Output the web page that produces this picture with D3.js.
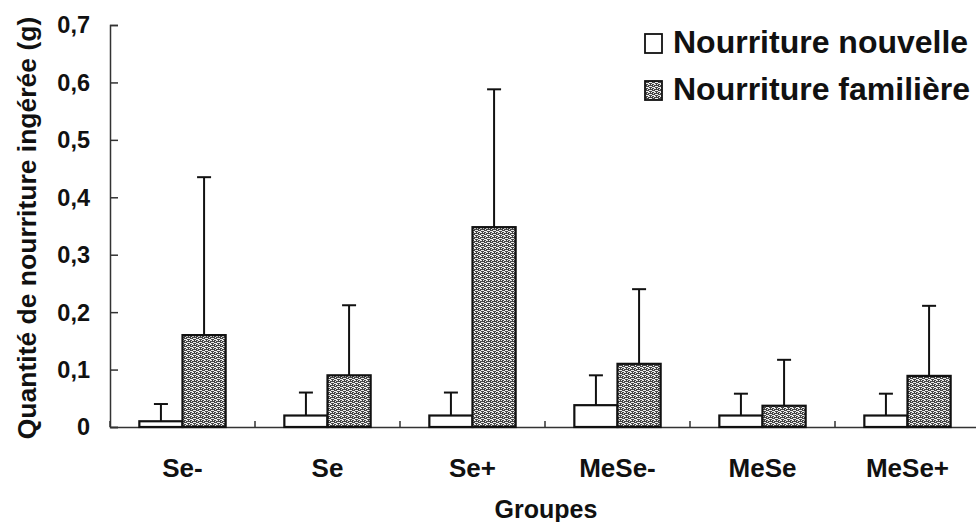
<!DOCTYPE html>
<html>
<head>
<meta charset="utf-8">
<script src="https://cdn.jsdelivr.net/npm/d3@7"></script>
<style>
  html, body { margin: 0; padding: 0; background: #fff; }
  svg { display: block; }
  text { font-family: "Liberation Sans", Arial, sans-serif; font-weight: bold; fill: #111; }
</style>
</head>
<body>
<svg id="chart" width="976" height="522"></svg>
<script>
// Groups on the x axis
const groups = ["Se-", "Se", "Se+", "MeSe-", "MeSe", "MeSe+"];
// Series
const seriesNames = ["Nourriture nouvelle", "Nourriture familière"];
// Mean amount eaten (g)
const nouvelleMean = [0.010, 0.020, 0.020, 0.038, 0.020, 0.020];
const familiereMean = [0.160, 0.090, 0.348, 0.110, 0.037, 0.089];
// Standard deviation (upper error bar only)
const nouvelleSD = [0.030, 0.040, 0.040, 0.052, 0.038, 0.038];
const familiereSD = [0.275, 0.122, 0.240, 0.130, 0.080, 0.122];
// Y tick values and their labels (decimal comma)
const yTicks = [0, 0.1, 0.2, 0.3, 0.4, 0.5, 0.6, 0.7];
const yTickLabels = ["0", "0,1", "0,2", "0,3", "0,4", "0,5", "0,6", "0,7"];

const svg = d3.select("#chart");

// Textured fill for the "familière" bars
const defs = svg.append("defs");
const pat = defs.append("pattern")
  .attr("id", "texture")
  .attr("patternUnits", "userSpaceOnUse")
  .attr("width", 6).attr("height", 4);
pat.append("rect").attr("width", 6).attr("height", 4).attr("fill", "#454545");
[[0,0,2,1],[3,0,1,1],[5,1,1,1],[1,2,3,1],[0,3,1,1],[4,3,2,1]].forEach(([px,py,w,h]) => {
  pat.append("rect").attr("x", px).attr("y", py).attr("width", w).attr("height", h).attr("fill", "#ececec");
});

const plotLeft = 110, plotRight = 980, plotTop = 25, plotBottom = 427;

const x0 = d3.scaleBand().domain(groups).range([plotLeft, plotRight]).paddingInner(0).paddingOuter(0);
const x1 = d3.scaleBand().domain(seriesNames).range([0, x0.bandwidth()])
  .paddingInner(0).paddingOuter(0.68);
const y = d3.scaleLinear().domain([0, 0.7]).range([plotBottom, plotTop]);

// Y axis: ticks pointing into the plot
const yAxis = d3.axisRight(y).tickValues(yTicks).tickSize(8).tickFormat(() => "");
const gy = svg.append("g").attr("transform", `translate(${plotLeft},0)`).call(yAxis);
gy.select(".domain").attr("stroke", "#333").attr("stroke-width", 1.5);
gy.selectAll(".tick line").attr("stroke", "#333").attr("stroke-width", 1.5);

// Y tick labels
svg.append("g").selectAll("text").data(yTicks).join("text")
  .attr("x", 90)
  .attr("y", d => y(d))
  .attr("dy", "0.36em")
  .attr("text-anchor", "end")
  .attr("font-size", 23.5)
  .text((d, i) => yTickLabels[i]);

// X axis baseline with small upward ticks between groups
const xAxis = d3.axisTop(x0).tickSize(6).tickFormat(() => "").tickSizeOuter(0);
const gx = svg.append("g").attr("transform", `translate(0,${plotBottom})`).call(xAxis);
gx.select(".domain").attr("stroke", "#333").attr("stroke-width", 1.5);
gx.selectAll(".tick").attr("transform", d => `translate(${x0(d)},0)`);
gx.selectAll(".tick line").attr("stroke", "#333").attr("stroke-width", 1.5);

// Group labels
svg.append("g").selectAll("text").data(groups).join("text")
  .attr("x", d => x0(d) + x0.bandwidth() / 2)
  .attr("y", 477)
  .attr("text-anchor", "middle")
  .attr("font-size", 26)
  .text(d => d);

// Bars
const rows = groups.map((g, i) => [
  { g, s: seriesNames[0], v: nouvelleMean[i], sd: nouvelleSD[i] },
  { g, s: seriesNames[1], v: familiereMean[i], sd: familiereSD[i] }
]).flat();

const barG = svg.append("g");
// error bars (drawn first so the bar outline sits on top of the stem base)
barG.selectAll("line.stem").data(rows).join("line")
  .attr("class", "stem")
  .attr("x1", d => x0(d.g) + x1(d.s) + x1.bandwidth() / 2)
  .attr("x2", d => x0(d.g) + x1(d.s) + x1.bandwidth() / 2)
  .attr("y1", d => y(d.v))
  .attr("y2", d => y(d.v + d.sd))
  .attr("stroke", "#111").attr("stroke-width", 2);
barG.selectAll("line.cap").data(rows).join("line")
  .attr("class", "cap")
  .attr("x1", d => x0(d.g) + x1(d.s) + x1.bandwidth() / 2 - 7)
  .attr("x2", d => x0(d.g) + x1(d.s) + x1.bandwidth() / 2 + 7)
  .attr("y1", d => y(d.v + d.sd))
  .attr("y2", d => y(d.v + d.sd))
  .attr("stroke", "#111").attr("stroke-width", 2);

barG.selectAll("rect.bar").data(rows).join("rect")
  .attr("class", "bar")
  .attr("x", d => x0(d.g) + x1(d.s))
  .attr("y", d => y(d.v))
  .attr("width", x1.bandwidth())
  .attr("height", d => y(0) - y(d.v))
  .attr("fill", d => d.s === seriesNames[0] ? "#fff" : "url(#texture)")
  .attr("stroke", "#111")
  .attr("stroke-width", 2.2);

// Axis titles
svg.append("text")
  .attr("transform", "translate(36,228) rotate(-90)")
  .attr("text-anchor", "middle")
  .attr("font-size", 26.5)
  .text("Quantité de nourriture ingérée (g)");

svg.append("text")
  .attr("x", 546).attr("y", 518)
  .attr("text-anchor", "middle")
  .attr("font-size", 25)
  .text("Groupes");

// Legend
const legend = svg.append("g");
seriesNames.forEach((name, i) => {
  const yy = 53 + i * 47;
  legend.append("rect")
    .attr("x", 645).attr("y", yy - 19)
    .attr("width", 17).attr("height", 19)
    .attr("fill", i === 0 ? "#fff" : "url(#texture)")
    .attr("stroke", "#111").attr("stroke-width", 1.8);
  legend.append("text")
    .attr("x", 673).attr("y", yy)
    .attr("font-size", 32)
    .text(name);
});
</script>
</body>
</html>
